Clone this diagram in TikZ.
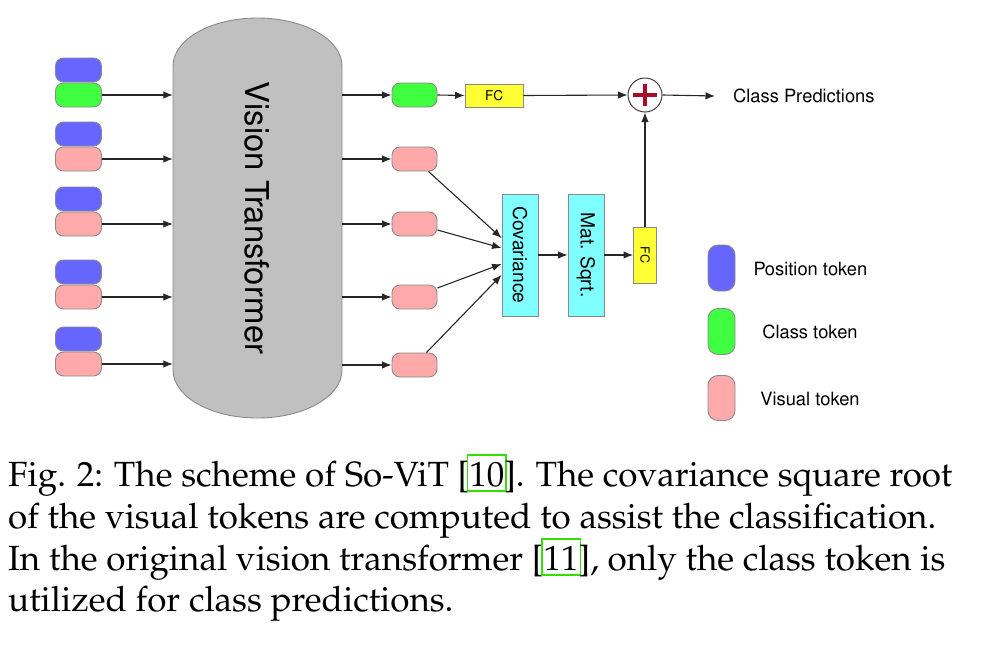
\documentclass[tikz,border=0pt]{standalone}
\usepackage[T1]{fontenc}
\renewcommand{\rmdefault}{ppl}
\renewcommand{\sfdefault}{phv}
\usetikzlibrary{arrows.meta,calc}
\definecolor{posblue}{HTML}{6666FF}
\definecolor{clsgreen}{HTML}{40FF40}
\definecolor{vispink}{HTML}{FFAAAA}
\definecolor{vtgray}{HTML}{C0C0C0}
\definecolor{covcyan}{HTML}{7FFFFF}
\definecolor{fcyellow}{HTML}{FFFF33}
\definecolor{plusred}{HTML}{A50E2D}
\definecolor{citegreen}{HTML}{33E000}
\definecolor{edgegray}{HTML}{8A8A8A}
\newcommand\citebox[1]{\makebox[0pt][l]{\hspace{-2.6pt}\textcolor{citegreen}{\setlength\fboxsep{1pt}\setlength\fboxrule{1.6pt}\fbox{\rule[-3pt]{0pt}{32pt}\phantom{#1}}}}#1}
\begin{document}
\begin{tikzpicture}[x=1pt,y=-1pt,
  tok/.style={draw=edgegray, line width=0.9pt, rounded corners=8pt, minimum width=46pt, minimum height=24pt, inner sep=0pt},
  legtok/.style={draw=edgegray, line width=0.9pt, rounded corners=10pt, minimum width=27pt, minimum height=46pt, inner sep=0pt},
  boxx/.style={draw=edgegray, line width=0.9pt, inner sep=0pt},
  arr/.style={-{Latex[length=9.5pt,width=7.5pt]}, line width=1.1pt, draw=black!85},
  lab/.style={font=\sffamily\fontsize{18.3}{22}\selectfont, inner sep=0pt},
  capline/.style={font=\rmfamily\fontsize{35}{42}\selectfont, inner sep=0pt, anchor=base west}]
\useasboundingbox (0,0) rectangle (992,646);

% Vision transformer body
\node[minimum width=169pt, minimum height=400pt, inner sep=0pt] (vt) at (257.5,218) {};
\draw[draw=edgegray, fill=vtgray, line width=0.9pt]
  (173,66) arc[start angle=180, end angle=360, x radius=84.5, y radius=48]
  -- (342,370) arc[start angle=0, end angle=180, x radius=84.5, y radius=48] -- cycle;
\node[rotate=-90, font=\sffamily\fontsize{32.8}{38}\selectfont, inner sep=0pt] (vtlabel) at (257,218) {Vision Transformer};

% input token stacks
\node[tok, fill=posblue] (b1) at (78.5,70) {};
\node[tok, fill=clsgreen] (g1) at (78.5,95) {};
\node[tok, fill=posblue] (b2) at (78.5,134) {};
\node[tok, fill=vispink] (i2) at (78.5,159) {};
\node[tok, fill=posblue] (b3) at (78.5,199) {};
\node[tok, fill=vispink] (i3) at (78.5,224) {};
\node[tok, fill=posblue] (b4) at (78.5,272) {};
\node[tok, fill=vispink] (i4) at (78.5,297) {};
\node[tok, fill=posblue] (b5) at (78.5,339) {};
\node[tok, fill=vispink] (i5) at (78.5,364) {};

\foreach \n in {g1,i2,i3,i4,i5}
  \draw[arr] (\n.east) -- (\n.east -| vt.west);

% output tokens
\node[tok, fill=clsgreen, minimum width=45pt] (og) at (414.5,95) {};
\node[tok, fill=vispink, minimum width=45pt] (p1) at (414.5,159) {};
\node[tok, fill=vispink, minimum width=45pt] (p2) at (414.5,224) {};
\node[tok, fill=vispink, minimum width=45pt] (p3) at (414.5,297) {};
\node[tok, fill=vispink, minimum width=45pt] (p4) at (414.5,365) {};

\foreach \n in {og,p1,p2,p3,p4}
  \draw[arr] (\n.west -| vt.east) -- (\n.west);

% top branch
\node[boxx, fill=fcyellow, minimum width=58pt, minimum height=23pt, font=\sffamily\fontsize{13.5}{16}\selectfont] (fc1) at (494,95.5) {FC};
\node[circle, draw=black!75, line width=1pt, fill=white, minimum size=34pt, inner sep=0pt] (plus) at (645,95) {};
\draw[plusred, line width=4.5pt] ([xshift=-12pt]plus.center) -- ([xshift=12pt]plus.center);
\draw[plusred, line width=4.5pt] ([yshift=-11pt]plus.center) -- ([yshift=11pt]plus.center);
\node[lab, anchor=west] (cp) at (733,96) {Class Predictions};

\draw[arr] (og.east) -- (fc1.west);
\draw[arr] (fc1.east) -- (plus.west);
\draw[arr] (plus.east) -- ([xshift=-18pt]cp.west);

% covariance branch
\node[boxx, fill=covcyan, minimum width=36pt, minimum height=122pt] (cov) at (520,255) {};
\node[rotate=-90, font=\sffamily\fontsize{19.2}{23}\selectfont, inner sep=0pt] at (cov.center) {Covariance};
\node[boxx, fill=covcyan, minimum width=36pt, minimum height=122pt] (msq) at (586,255) {};
\node[rotate=-90, font=\sffamily\fontsize{19.2}{23}\selectfont, inner sep=0pt] at (msq.center) {Mat. Sqrt.};
\node[boxx, fill=fcyellow, minimum width=23pt, minimum height=56pt] (fc2) at (645,255) {};
\node[rotate=-90, font=\sffamily\fontsize{12.5}{15}\selectfont, inner sep=0pt] at (fc2.center) {FC};

\draw[arr] ([xshift=-9pt]p1.south east) -- ([yshift=17pt]cov.west);
\draw[arr] ([yshift=-6pt]p2.east) -- ([yshift=7pt]cov.west);
\draw[arr] ([yshift=9pt]p3.east) -- ([yshift=-9pt]cov.west);
\draw[arr] ([xshift=-11pt]p4.north east) -- ([yshift=-20pt]cov.west);
\draw[arr] (cov.east) -- (msq.west);
\draw[arr] (msq.east) -- (fc2.west);
\draw[arr] (fc2.north) -- (plus.south);

% legend
\node[legtok, fill=posblue] (lp) at (721.5,268) {};
\node[legtok, fill=clsgreen] (lc) at (721.5,331.5) {};
\node[legtok, fill=vispink, minimum height=45pt] (lv) at (721.5,398) {};
\node[lab] (lpt) at (810.5,269) {Position token};
\node[lab] (lct) at (810,332) {Class token};
\node[lab] (lvt) at (810,399) {Visual token};

% caption
\node[capline] (c1) at (8,486) {Fig. 2: The scheme of So-ViT [\citebox{10}]. The covariance square root};
\node[capline] (c2) at (8,528) {of the visual tokens are computed to assist the classification.};
\node[capline] (c3) at (8,570) {In the original vision transformer [\citebox{11}], only the class token is};
\node[capline] (c4) at (8,611) {utilized for class predictions.};
\end{tikzpicture}
\end{document}
